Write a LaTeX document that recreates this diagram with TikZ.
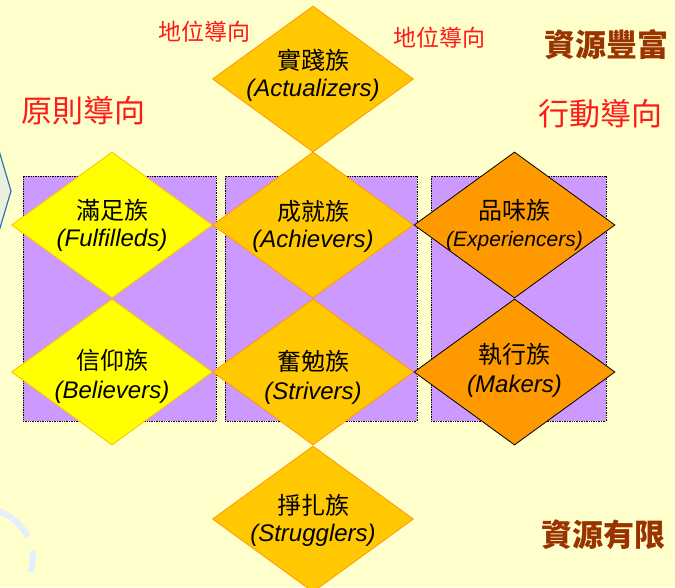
\documentclass[tikz,border=0pt]{standalone}
\usepackage{fontspec}
\setmainfont{Liberation Sans}
\newfontfamily\cjk{Noto Sans CJK TC}
\usetikzlibrary{shapes.geometric}
\definecolor{bgcol}{HTML}{FFFFCC}
\definecolor{panelcol}{HTML}{CC99FF}
\definecolor{yelfill}{HTML}{FFFF00}
\definecolor{yelline}{HTML}{FFC000}
\definecolor{goldfill}{HTML}{FFC800}
\definecolor{goldline}{HTML}{FF9900}
\definecolor{orfill}{HTML}{FF9900}
\definecolor{redlab}{HTML}{FF1A1A}
\definecolor{brownlab}{HTML}{993300}
\definecolor{hexfill}{HTML}{E9F1DC}
\definecolor{hexline}{HTML}{2E75B6}
\definecolor{swirlcol}{HTML}{E3EEFF}
\tikzset{
  panel/.style={draw=black, densely dotted, line width=0.7pt, fill=panelcol, inner sep=0pt},
  dia/.style={diamond, minimum width=201pt, minimum height=146pt, inner sep=0pt, line width=0.8pt},
  diayel/.style={dia, fill=yelfill, draw=yelline},
  diagold/.style={dia, fill=goldfill, draw=goldline},
  diaor/.style={dia, fill=orfill, draw=black},
  tx/.style={align=center, inner sep=0pt, font=\fontsize{24}{27}\selectfont},
  redsmall/.style={inner sep=0pt, text=redlab, font=\cjk\fontsize{23}{23}\selectfont},
  redbig/.style={inner sep=0pt, text=redlab, font=\cjk\fontsize{31}{31}\selectfont},
  brownbig/.style={inner sep=0pt, text=brownlab, font=\cjk\bfseries\fontsize{31}{31}\selectfont}
}
\begin{document}
\begin{tikzpicture}[x=1pt,y=-1pt]
\fill[bgcol] (0,0) rectangle (675,587);
\useasboundingbox (0,0) rectangle (675,587);
% left decorative shape and swirl
\filldraw[fill=hexfill, draw=hexline, line width=1.2pt] (-8,127) -- (11,191) -- (-8,255);
\draw[swirlcol, line width=6pt] (-3,510) .. controls (10,515) and (22,525) .. (28,537);
\draw[swirlcol, line width=6pt] (32,551) .. controls (34,559) and (33,566) .. (30,572);
% panels
\node[panel, minimum width=193pt, minimum height=245pt] (p1) at (119.5,298.5) {};
\node[panel, minimum width=192pt, minimum height=245pt] (p2) at (321,298.5) {};
\node[panel, minimum width=175pt, minimum height=245pt] (p3) at (518.5,298.5) {};
% diamonds
\node[diagold] (A) at (313,79) {};
\node[diayel] (F) at (112,225) {};
\node[diagold] (Ach) at (313,225) {};
\node[diaor] (E) at (514.5,225) {};
\node[diayel] (B) at (112,372) {};
\node[diagold] (S) at (313,372) {};
\node[diaor] (M) at (514.5,372) {};
\node[diagold] (St) at (313,519) {};
% texts
\node[tx] (tA) at ([yshift=3.5pt]A) {{\cjk 實踐族}\\\textit{(Actualizers)}};
\node[tx] (tF) at ([yshift=-0.5pt]F) {{\cjk 滿足族}\\\textit{(Fulfilleds)}};
\node[tx] (tAch) at ([yshift=-1pt]Ach) {{\cjk 成就族}\\\textit{(Achievers)}};
\node[tx] (tE) at ([yshift=-0.5pt]E) {{\cjk 品味族}\\{\fontsize{21}{21}\selectfont\textit{(Experiencers)}}};
\node[tx] (tB) at ([yshift=-4.5pt]B) {{\cjk 信仰族}\\[2pt]\textit{(Believers)}};
\node[tx] (tS) at ([yshift=-5pt]S) {{\cjk 奮勉族}\\[2pt]\textit{(Strivers)}};
\node[tx] (tM) at ([yshift=2pt]M) {{\cjk 執行族}\\[2pt]\textit{(Makers)}};
\node[tx] (tSt) at ([yshift=-1.5pt]St) {{\cjk 掙扎族}\\\textit{(Strugglers)}};
% labels
\node[redsmall] (l1) at (204,32) {地位導向};
\node[redsmall] (l2) at (439,38) {地位導向};
\node[redbig] (l3) at (83,111) {原則導向};
\node[redbig] (l4) at (600,114) {行動導向};
\node[brownbig] (l5) at (606,45) {資源豐富};
\node[brownbig] (l6) at (603,535) {資源有限};
\end{tikzpicture}
\end{document}
